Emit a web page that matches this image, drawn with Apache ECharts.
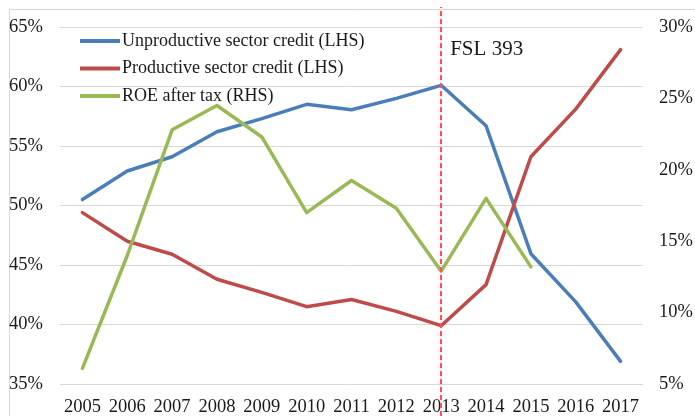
<!DOCTYPE html>
<html>
<head>
<meta charset="utf-8">
<script src="https://cdn.jsdelivr.net/npm/echarts@6/dist/echarts.min.js"></script>
<style>
html,body{margin:0;padding:0;background:#fff;}
#c{width:695px;height:416px;}
</style>
</head>
<body>
<div id="c"></div>
<script>
const years = ['2005','2006','2007','2008','2009','2010','2011','2012','2013','2014','2015','2016','2017'];
const unproductive = [50.5, 52.9, 54.1, 56.2, 57.3, 58.5, 58.05, 59.0, 60.1, 56.7, 45.95, 41.9, 36.9];
const productive = [49.4, 47.0, 45.9, 43.8, 42.7, 41.5, 42.1, 41.1, 39.9, 43.35, 54.1, 58.1, 63.1];
const roe = [6.1, 14.0, 22.8, 24.5, 22.3, 17.0, 19.25, 17.3, 12.9, 18.0, 13.2, null, null];
const leftTicks = {min: 35, max: 65, interval: 5};
const rightTicks = {min: 5, max: 30, interval: 5};
const eventYear = '2013';
const eventLabel = 'FSL 393';
const eventLabelLevel = 63.1;

const font = '"Liberation Serif", "Times New Roman", serif';
const chart = echarts.init(document.getElementById('c'), null, {renderer: 'canvas'});
chart.setOption({
  animation: false,
  backgroundColor: '#fff',
  textStyle: {fontFamily: font, color: '#1a1a1a'},
  graphic: [{
    type: 'rect', left: 7, top: 7, silent: true, z: -10,
    shape: {width: 720, height: 440},
    style: {fill: 'none', stroke: '#d9d9d9', lineWidth: 1}
  }],
  legend: {
    left: 80, top: 32, orient: 'vertical', itemGap: 9.5, padding: 0,
    icon: 'rect', itemWidth: 40, itemHeight: 4,
    textStyle: {fontFamily: font, fontSize: 18, color: '#1a1a1a', padding: [0, 0, 0, -3]},
    data: ['Unproductive sector credit (LHS)', 'Productive sector credit (LHS)', 'ROE after tax (RHS)']
  },
  grid: [
    {left: 60, right: 52, top: 27, bottom: 32, containLabel: false, outerBoundsMode: 'none'},
    {left: 60, right: 52, top: 7, bottom: 0, containLabel: false, outerBoundsMode: 'none'}
  ],
  xAxis: [{
    type: 'category', data: years, boundaryGap: true, gridIndex: 0,
    axisLine: {show: false}, axisTick: {show: false},
    axisLabel: {fontFamily: font, fontSize: 18.5, color: '#1a1a1a', margin: 14, interval: 0}
  }, {
    type: 'category', data: years, boundaryGap: true, gridIndex: 1, show: false
  }],
  yAxis: [{
    type: 'value', gridIndex: 0, min: leftTicks.min, max: leftTicks.max, interval: leftTicks.interval,
    axisLine: {show: false}, axisTick: {show: false},
    splitLine: {lineStyle: {color: '#d9d9d9', width: 1}},
    axisLabel: {fontFamily: font, fontSize: 18.5, color: '#1a1a1a', margin: 17, formatter: '{value}%'}
  }, {
    type: 'value', gridIndex: 0, position: 'right', min: rightTicks.min, max: rightTicks.max, interval: rightTicks.interval,
    axisLine: {show: false}, axisTick: {show: false}, splitLine: {show: false},
    axisLabel: {fontFamily: font, fontSize: 18.5, color: '#1a1a1a', margin: 16, formatter: '{value}%'}
  }, {
    type: 'value', gridIndex: 1, min: 0, max: 1, show: false
  }],
  series: [{
    name: 'Unproductive sector credit (LHS)', type: 'line', data: unproductive,
    xAxisIndex: 0, yAxisIndex: 0, showSymbol: false, symbol: 'none',
    color: '#4a7ebb', lineStyle: {width: 3.5, color: '#4a7ebb', cap: 'round', join: 'round'},
    markPoint: {
      symbol: 'circle', symbolSize: 0, silent: true,
      data: [{coord: [eventYear, eventLabelLevel]}],
      label: {show: true, position: 'right', distance: 9, formatter: eventLabel,
        fontFamily: font, fontSize: 21, color: '#1a1a1a'}
    }
  }, {
    name: 'Productive sector credit (LHS)', type: 'line', data: productive,
    xAxisIndex: 0, yAxisIndex: 0, showSymbol: false, symbol: 'none',
    color: '#be4b48', lineStyle: {width: 3.5, color: '#be4b48', cap: 'round', join: 'round'}
  }, {
    name: 'ROE after tax (RHS)', type: 'line', data: roe,
    xAxisIndex: 0, yAxisIndex: 1, showSymbol: false, symbol: 'none',
    color: '#98b954', lineStyle: {width: 3.5, color: '#98b954', cap: 'round', join: 'round'}
  }, {
    name: 'event', type: 'line', data: [], xAxisIndex: 1, yAxisIndex: 2, z: 5,
    markLine: {
      symbol: 'none', silent: true, label: {show: false},
      lineStyle: {color: '#ff5060', type: [5, 3], width: 2, shadowColor: 'rgba(255,120,130,0.35)', shadowBlur: 4},
      data: [{xAxis: eventYear}]
    }
  }]
});
</script>
</body>
</html>
